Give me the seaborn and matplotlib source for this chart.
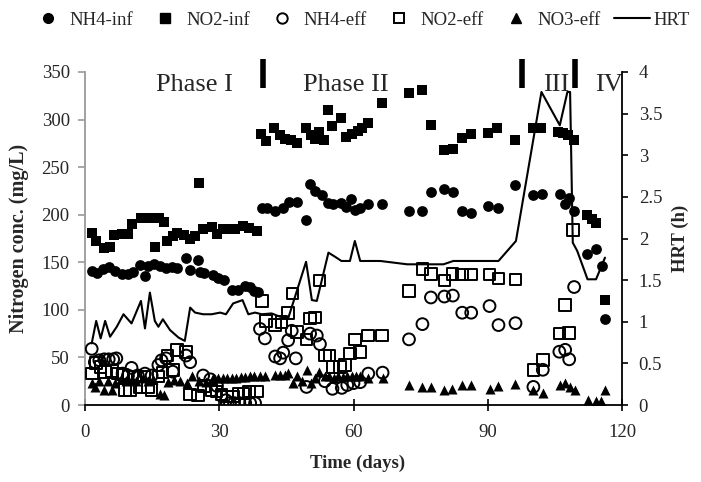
import matplotlib
matplotlib.use("Agg")
import matplotlib.pyplot as plt
from matplotlib.lines import Line2D
import seaborn as sns
import pandas as pd

# ---- influent ammonium (mg/L) ----
nh4_inf_day = [1.5, 2.6, 4.1, 5.4, 6.7, 8.2, 9.7, 10.8, 12.4, 13.4, 14.1, 15.4, 16.8, 18.0,
               19.4, 20.6, 22.6, 23.5, 25.2, 25.6, 26.6, 28.5, 29.8, 31.1, 32.8, 34.3, 35.8,
               36.9, 37.8, 38.7, 39.5, 40.6, 42.4, 44.3, 45.6, 47.3, 49.4, 50.3, 51.4, 52.9,
               54.4, 55.5, 57.3, 58.3, 59.4, 60.3, 61.5, 63.3, 66.3, 72.4, 75.4, 77.3, 80.3,
               82.3, 84.3, 86.3, 90.1, 92.4, 96.2, 100.2, 102.2, 106.1, 107.3, 108.2, 109.3,
               112.1, 114.3, 115.5, 116.2]
nh4_inf_val = [141, 139, 143, 145, 141, 138, 138, 140, 147, 136, 146, 148, 146, 144,
               145, 144, 154, 142, 152, 140, 139, 137, 134, 131, 121, 121, 125,
               124, 120, 119, 207, 207, 204, 207, 213, 213, 194, 232, 225, 221,
               212, 211, 212, 208, 216, 205, 207, 211, 211, 204, 204, 224, 227,
               224, 204, 202, 209, 207, 231, 221, 222, 222, 211, 218, 204,
               159, 164, 146, 90]

# ---- influent nitrite (mg/L) ----
no2_inf_day = [1.5, 2.4, 4.3, 5.6, 6.5, 8.3, 9.5, 10.6, 12.5, 13.8, 15.1, 15.6, 16.5, 17.7,
               18.4, 19.7, 20.6, 22.2, 23.5, 24.6, 25.5, 26.4, 28.3, 29.4, 30.9, 32.4, 33.5,
               35.4, 36.7, 38.4, 39.3, 40.4, 42.3, 43.6, 44.7, 46.0, 47.3, 49.4, 50.4, 51.5,
               52.3, 53.3, 54.4, 55.3, 57.2, 58.3, 59.6, 60.9, 62.0, 63.3, 66.3, 72.3, 75.2,
               77.4, 80.2, 82.2, 84.3, 86.3, 90.1, 92.1, 96.2, 100.2, 101.2, 102.0, 105.8,
               106.9, 108.0, 109.3, 112.1, 113.3, 114.3, 116.2]
no2_inf_val = [181, 172, 165, 166, 179, 180, 180, 190, 197, 197, 197, 166, 197, 192,
               172, 178, 181, 179, 175, 178, 233, 185, 187, 180, 185, 185, 185,
               188, 186, 183, 285, 277, 291, 284, 280, 279, 275, 291, 284, 280,
               287, 279, 310, 293, 302, 282, 285, 288, 291, 296, 317, 328, 331,
               294, 268, 269, 281, 285, 286, 291, 279, 291, 291, 291, 287,
               286, 284, 279, 200, 196, 191, 110]

# ---- effluent ammonium (mg/L) ----
nh4_eff_day = [1.5, 2.2, 3.2, 4.3, 5.3, 6.3, 7.0, 8.4, 9.6, 10.4, 11.8, 13.4, 14.9, 16.4,
               17.1, 18.1, 19.6, 22.6, 23.5, 26.4, 28.0, 29.5, 30.5, 31.5, 32.4, 33.3, 34.5,
               35.8, 36.9, 38.0, 39.1, 40.2, 42.5, 43.6, 44.3, 45.4, 46.2, 47.1, 49.5, 50.3,
               51.8, 52.5, 53.6, 55.3, 57.4, 58.6, 60.0, 61.5, 63.3, 66.5, 72.4, 75.4, 77.3,
               80.3, 82.2, 84.3, 86.3, 90.4, 92.4, 96.2, 100.2, 102.3, 106.0, 107.3, 108.2,
               109.3]
nh4_eff_val = [59, 45, 47, 48, 48, 48, 49, 33, 31, 39, 31, 33, 31, 42,
               47, 49, 35, 52, 45, 31, 27, 20, 10, 5, 2, 2, 2,
               2, 2, 2, 80, 70, 51, 49, 55, 68, 78, 49, 19, 75,
               73, 64, 25, 17, 18, 21, 23, 24, 33, 34, 69, 85, 113,
               114, 115, 97, 97, 104, 84, 86, 19, 37, 56, 58, 48,
               124]

# ---- effluent nitrite (mg/L) ----
no2_eff_day = [1.5, 2.5, 3.5, 4.5, 6.0, 7.3, 8.4, 9.0, 10.0, 11.2, 12.3, 13.2, 14.1, 14.9,
               16.4, 17.3, 18.4, 19.6, 20.5, 22.6, 23.5, 25.3, 26.6, 28.3, 29.4, 30.5, 31.7,
               33.1, 34.3, 35.4, 36.7, 38.4, 39.5, 40.4, 42.5, 43.9, 45.4, 46.4, 47.4, 49.5,
               50.3, 51.4, 52.4, 53.6, 54.6, 55.3, 57.0, 58.1, 59.2, 60.3, 61.5, 63.3, 66.3,
               72.4, 75.4, 77.3, 80.3, 82.1, 84.3, 86.3, 90.4, 92.4, 96.2, 100.2, 102.3,
               106.0, 107.3, 108.2, 109.1]
no2_eff_val = [33, 44, 40, 35, 36, 33, 32, 16, 16, 30, 19, 30, 19, 16,
               30, 34, 52, 37, 58, 56, 11, 10, 20, 16, 14, 11, 9,
               9, 12, 12, 14, 14, 109, 88, 84, 87, 97, 117, 77, 69,
               91, 92, 131, 52, 52, 40, 40, 42, 54, 69, 56, 73, 73,
               120, 143, 138, 131, 138, 137, 137, 137, 133, 132, 37, 47,
               75, 105, 76, 184]

# ---- effluent nitrate (mg/L) ----
no3_eff_day = [1.5, 2.2, 3.2, 4.2, 5.2, 6.0, 6.7, 8.0, 9.2, 10.4, 11.5, 13.0, 14.0, 15.2,
               16.8, 17.7, 18.6, 19.8, 21.2, 22.7, 24.0, 25.5, 27.0, 28.7, 29.8, 30.8, 31.8,
               32.8, 33.8, 34.8, 35.8, 36.8, 37.8, 39.1, 40.2, 42.5, 43.6, 44.7, 45.4, 46.4,
               47.4, 48.5, 49.5, 50.4, 51.4, 52.4, 53.6, 54.6, 55.6, 56.6, 57.6, 58.6, 59.6,
               60.5, 61.5, 63.3, 66.5, 72.4, 75.4, 77.3, 80.3, 82.1, 84.3, 86.3, 90.4, 92.4,
               96.2, 100.2, 102.3, 106.1, 107.3, 108.4, 109.5, 112.3, 114.2, 115.2, 116.2]
no3_eff_val = [23, 19, 25, 16, 25, 16, 23, 27, 25, 27, 25, 28, 25, 27,
               12, 11, 24, 26, 25, 23, 30, 25, 24, 28, 28, 28, 28,
               28, 28, 29, 29, 30, 30, 30, 30, 32, 32, 32, 34, 23,
               30, 25, 37, 23, 28, 35, 30, 30, 28, 30, 29, 30, 30,
               30, 30, 28, 28, 21, 19, 19, 16, 17, 21, 21, 17, 20,
               22, 16, 13, 21, 23, 19, 16, 5, 4, 4, 16]

# ---- hydraulic retention time (h) ----
hrt_day = [1.5, 2.5, 3.5, 4.5, 5.6, 7.1, 8.6, 10.4, 12.5, 13.4, 14.5, 15.6, 16.4, 17.4,
           19.0, 20.9, 22.3, 23.5, 24.6, 26.4, 28.3, 30.2, 31.5, 33.1, 35.2, 36.5, 38.0,
           39.5, 41.7, 43.6, 45.4, 49.4, 50.7, 51.8, 54.4, 55.9, 57.3, 59.2, 60.3, 61.5,
           66.0, 72.0, 80.1, 82.3, 88.3, 92.4, 96.3, 102.0, 106.1, 107.8, 108.4, 109.0,
           110.0, 112.3, 114.2, 116.2]
hrt_val = [0.74, 1.01, 0.80, 1.01, 0.82, 0.94, 1.09, 0.98, 1.25, 0.92, 1.35, 1.01, 0.94, 1.03,
           0.90, 0.81, 0.77, 1.17, 1.11, 1.09, 1.09, 1.11, 1.09, 1.22, 1.26, 1.09, 1.11,
           1.09, 1.10, 1.06, 1.04, 1.72, 1.26, 1.25, 1.83, 1.78, 1.73, 1.73, 1.97, 1.73,
           1.73, 1.69, 1.69, 1.73, 1.73, 1.73, 1.97, 3.76, 3.36, 3.76, 3.76, 1.95,
           1.85, 1.51, 1.51, 1.77]

# ---- phase boundaries and labels ----
phase_bounds = [39.7, 97.7, 109.6]
phase_names = ["Phase I", "Phase II", "III", "IV"]
phase_label_x = [24.4, 58.3, 105.4, 117.1]

sns.set_style("ticks")
plt.rcParams["font.family"] = ["Liberation Serif", "DejaVu Serif"]

FS = 13.5
fig = plt.figure(figsize=(7.01, 4.82), dpi=100)
ax = fig.add_axes([85 / 701, 77 / 482, 537 / 701, 333 / 482])
ax2 = ax.twinx()

series = [
    (nh4_inf_day, nh4_inf_val, "o", "black", 60, 0.0),
    (no2_inf_day, no2_inf_val, "s", "black", 58, 0.0),
    (nh4_eff_day, nh4_eff_val, "o", "none", 72, 1.4),
    (no2_eff_day, no2_eff_val, "s", "none", 70, 1.4),
    (no3_eff_day, no3_eff_val, "^", "black", 52, 0.0),
]
for d, v, m, fc, s, lw in series:
    df = pd.DataFrame({"day": d, "val": v})
    sns.scatterplot(data=df, x="day", y="val", marker=m, s=s, facecolor=fc,
                    edgecolor="black", linewidth=lw, ax=ax, legend=False, zorder=3)

hrt_df = pd.DataFrame({"day": hrt_day, "hrt": hrt_val})
sns.lineplot(data=hrt_df, x="day", y="hrt", color="black", lw=1.5, ax=ax2,
             sort=False, legend=False)

ax.set_xlim(0, 120)
ax.set_ylim(0, 350)
ax2.set_ylim(0, 4)
ax.set_xticks([0, 30, 60, 90, 120])
ax.set_yticks(range(0, 351, 50))
ax2.set_yticks([0, 0.5, 1, 1.5, 2, 2.5, 3, 3.5, 4])
ax2.set_yticklabels(["0", "0.5", "1", "1.5", "2", "2.5", "3", "3.5", "4"])

for a in (ax, ax2):
    a.spines["top"].set_visible(False)
ax.spines["right"].set_visible(False)
ax.spines["left"].set_color("#9a9a9a")
ax.spines["left"].set_linewidth(1.3)
ax.spines["bottom"].set_color("black")
ax.spines["bottom"].set_linewidth(1.3)
ax2.spines["left"].set_visible(False)
ax2.spines["bottom"].set_visible(False)
ax2.spines["right"].set_color("black")
ax2.spines["right"].set_linewidth(1.3)

ax.tick_params(axis="y", direction="out", length=5, width=1.2, color="#9a9a9a",
               labelsize=FS, pad=6)
ax.tick_params(axis="x", direction="inout", length=8, width=1.2, color="black",
               labelsize=FS, pad=10)
ax2.tick_params(axis="y", direction="out", length=4, width=1.2, color="black",
                labelsize=FS, pad=8)

ax.set_xlabel("Time (days)", fontsize=FS, fontweight="bold")
ax.set_ylabel("Nitrogen conc. (mg/L)", fontsize=14.5, fontweight="bold")
ax2.set_ylabel("HRT (h)", fontsize=FS, fontweight="bold")
ax.xaxis.set_label_coords(0.507, -0.15)
ax.yaxis.set_label_coords(-0.105, 0.5)
ax2.yaxis.set_label_coords(1.093, 0.5)

# phase dividers above the plotting area
for b in phase_bounds:
    ax.plot([b, b], [333, 364], color="black", lw=4, solid_capstyle="butt",
            clip_on=False, zorder=5)
for name, x in zip(phase_names, phase_label_x):
    ax.text(x, 336, name, fontsize=19, ha="center", va="center", zorder=6)

handles = [
    Line2D([], [], ls="none", marker="o", color="black", markersize=7),
    Line2D([], [], ls="none", marker="s", color="black", markersize=7),
    Line2D([], [], ls="none", marker="o", mfc="none", mec="black", mew=1.4, markersize=7.5),
    Line2D([], [], ls="none", marker="s", mfc="none", mec="black", mew=1.4, markersize=7.5),
    Line2D([], [], ls="none", marker="^", color="black", markersize=7),
    Line2D([], [], color="black", lw=1.5),
]
labels = ["NH4-inf", "NO2-inf", "NH4-eff", "NO2-eff", "NO3-eff", "HRT"]
fig.legend(handles, labels, loc="center left", bbox_to_anchor=(30 / 701, 1 - 20 / 482),
           ncol=6, frameon=False, fontsize=FS, handlelength=1.9, handletextpad=0.2,
           columnspacing=0.75, borderpad=0, borderaxespad=0)

fig.savefig("out.png", dpi=100)
